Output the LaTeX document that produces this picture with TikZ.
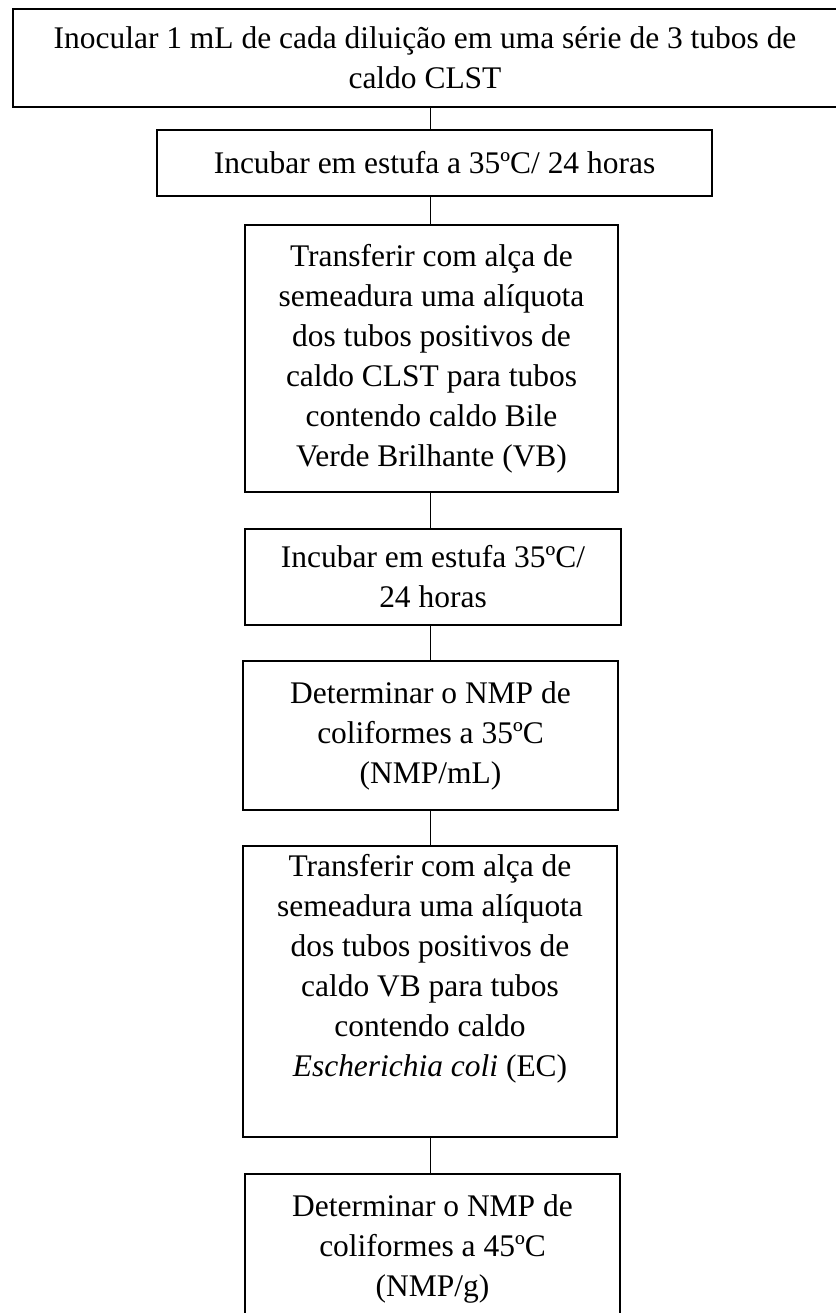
\documentclass[tikz,border=0pt]{standalone}
\usepackage{fontspec}
\setmainfont{Liberation Serif}
\usepackage{tikz}

\tikzset{
  stepbox/.style={draw, rectangle, line width=1.1pt, inner sep=0pt, align=center,
    font=\fontsize{23.6pt}{30pt}\selectfont},
  link/.style={line width=1.1pt}
}

\begin{document}
\begin{tikzpicture}[x=0.75pt,y=0.75pt,yscale=-1,xscale=1]
  %set diagram left start at 0, and has height of 1313
  \useasboundingbox (0,0) rectangle (835,1313);

  %Shape: Rectangle [inocular]
  \node [stepbox, minimum width=618pt, minimum height=73.5pt] (inocular) at (425,58)
    {Inocular 1 mL de cada diluição em uma série de 3 tubos de\\caldo CLST};
  %Shape: Rectangle [incubar]
  \node [stepbox, minimum width=416.25pt, minimum height=49.5pt] (incubar) at (434.5,163)
    {Incubar em estufa a 35ºC/ 24 horas};
  %Shape: Rectangle [transfCLST]
  \node [stepbox, minimum width=279.75pt, minimum height=200.25pt] (transfCLST) at (431.5,358.5)
    {Transferir com alça de\\semeadura uma alíquota\\dos tubos positivos de\\caldo CLST para tubos\\contendo caldo Bile\\Verde Brilhante (VB)};
  %Shape: Rectangle [incubarVB]
  \node [stepbox, minimum width=282pt, minimum height=72pt] (incubarVB) at (433,577)
    {Incubar em estufa 35ºC/\\24 horas};
  %Shape: Rectangle [nmpTotal]
  \node [stepbox, minimum width=281.25pt, minimum height=111.75pt] (nmpTotal) at (430.5,735.5)
    {Determinar o NMP de\\coliformes a 35ºC\\(NMP/mL)};
  %Shape: Rectangle [transfEC]
  \node [stepbox, minimum width=280.5pt, minimum height=218.25pt] (transfEC) at (430,991.5)
    {Transferir com alça de\\semeadura uma alíquota\\dos tubos positivos de\\caldo VB para tubos\\contendo caldo\\\textit{Escherichia coli} (EC)\\ \strut};
  %Shape: Rectangle [nmpTermo]
  \node [stepbox, minimum width=281.25pt, minimum height=111.75pt] (nmpTermo) at (432.5,1248.5)
    {Determinar o NMP de\\coliformes a 45ºC\\(NMP/g)};

  %Straight Lines
  \draw [link] (inocular.south -| nmpTotal.north) -- (incubar.north -| nmpTotal.north);
  \draw [link] (incubar.south -| nmpTotal.north) -- (transfCLST.north -| nmpTotal.north);
  \draw [link] (transfCLST.south -| nmpTotal.north) -- (incubarVB.north -| nmpTotal.north);
  \draw [link] (incubarVB.south -| nmpTotal.north) -- (nmpTotal.north);
  \draw [link] (nmpTotal.south) -- (transfEC.north -| nmpTotal.south);
  \draw [link] (transfEC.south -| nmpTotal.south) -- (nmpTermo.north -| nmpTotal.south);

\end{tikzpicture}
\end{document}
